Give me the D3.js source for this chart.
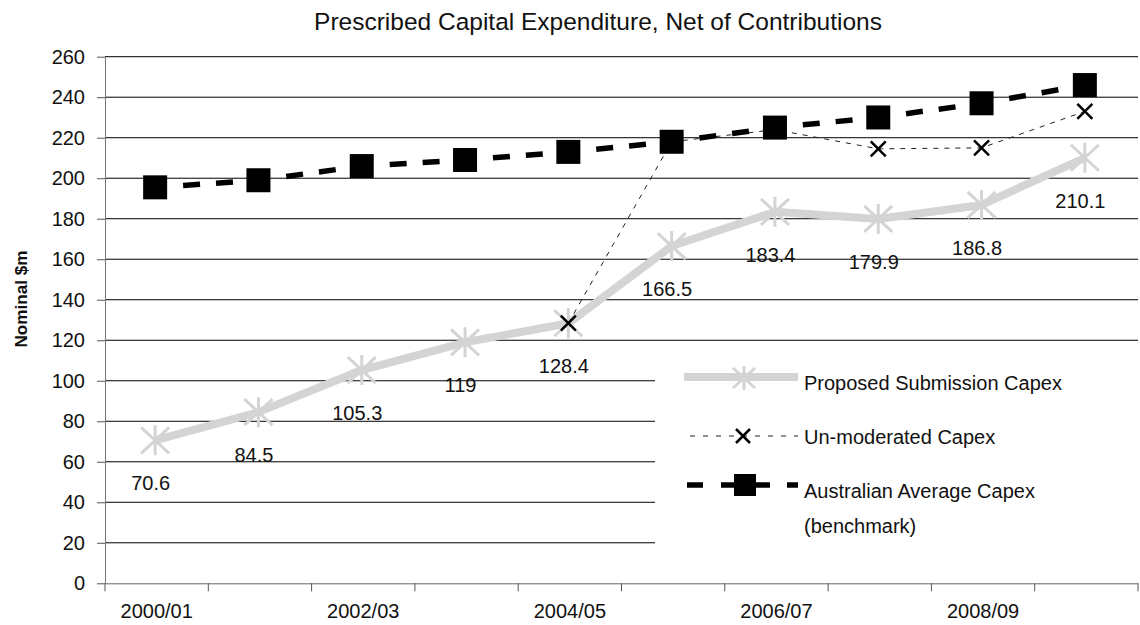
<!DOCTYPE html>
<html>
<head>
<meta charset="utf-8">
<script src="https://cdn.jsdelivr.net/npm/d3@7"></script>
<style>
  body { margin: 0; background: #fff; }
  svg { display: block; font-family: "Liberation Sans", Arial, Helvetica, sans-serif; }
</style>
</head>
<body>
<svg id="chart" width="1140" height="625"></svg>
<script>
// Financial years on the category axis
const categories = ["2000/01", "2001/02", "2002/03", "2003/04", "2004/05",
                    "2005/06", "2006/07", "2007/08", "2008/09", "2009/10"];
// Only every second year is labelled
const xTickLabels = ["2000/01", "2002/03", "2004/05", "2006/07", "2008/09"];
const yTicks = [0, 20, 40, 60, 80, 100, 120, 140, 160, 180, 200, 220, 240, 260];

// Series values, nominal $m
const proposed    = [70.6, 84.5, 105.3, 119, 128.4, 166.5, 183.4, 179.9, 186.8, 210.1];
const unmoderated = [null, null, null, null, 128.4, 218, 224, 214.5, 215, 233];
const benchmark   = [195.5, 199, 206, 209, 213, 218, 225, 230, 237, 246];

const seriesNames = ["Proposed Submission Capex", "Un-moderated Capex",
                     "Australian Average Capex", "(benchmark)"];

const svg = d3.select("#chart");
svg.append("rect").attr("width", 1140).attr("height", 625).attr("fill", "#fff");

const plot = { left: 105, right: 1138, top: 56.7, bottom: 583.3 };

const x = d3.scaleBand().domain(categories).range([plot.left, plot.right]).padding(0);
const cx = c => x(c) + x.bandwidth() / 2 - 1.5;
const y = d3.scaleLinear().domain([0, 260]).range([plot.bottom, plot.top]);

const FS = 20;

// Title
svg.append("text")
  .attr("x", 598).attr("y", 30)
  .attr("text-anchor", "middle")
  .attr("font-size", 24.5)
  .attr("fill", "#111")
  .text("Prescribed Capital Expenditure, Net of Contributions");

// Y axis title
svg.append("text")
  .attr("transform", "translate(21,299) rotate(-90)")
  .attr("text-anchor", "middle")
  .attr("dominant-baseline", "central")
  .attr("font-size", 17)
  .attr("font-weight", "bold")
  .attr("fill", "#111")
  .attr("textLength", 97)
  .attr("lengthAdjust", "spacingAndGlyphs")
  .text("Nominal $m");

// Horizontal gridlines
svg.append("g")
  .selectAll("line")
  .data(yTicks.filter(v => v > 0))
  .join("line")
  .attr("x1", plot.left).attr("x2", plot.right)
  .attr("y1", d => y(d)).attr("y2", d => y(d))
  .attr("stroke", "#000").attr("stroke-width", 1);

// Y axis
const yAxis = svg.append("g")
  .attr("transform", `translate(${plot.left},0)`)
  .call(d3.axisLeft(y).tickValues(yTicks).tickSize(8).tickPadding(12).tickSizeOuter(0));
yAxis.select(".domain").attr("stroke", "#777");
yAxis.selectAll(".tick line").attr("stroke", "#555");
yAxis.selectAll(".tick text")
  .attr("font-size", FS)
  .attr("font-family", "Liberation Sans, Arial, sans-serif")
  .attr("fill", "#111");

// X axis: tick marks on category boundaries, labels on alternate categories
const xAxis = svg.append("g")
  .attr("transform", `translate(0,${plot.bottom})`)
  .call(d3.axisBottom(x).tickValues(categories).tickSize(0).tickPadding(21)
          .tickFormat(d => xTickLabels.includes(d) ? d : ""));
xAxis.select(".domain").attr("stroke", "#666");
xAxis.selectAll(".tick text")
  .attr("font-size", FS)
  .attr("font-family", "Liberation Sans, Arial, sans-serif")
  .attr("fill", "#111");
const boundaries = categories.map(c => x(c)).concat([plot.right]);
xAxis.append("g").selectAll("line")
  .data(boundaries)
  .join("line")
  .attr("x1", d => d).attr("x2", d => d)
  .attr("y1", 0).attr("y2", 8)
  .attr("stroke", "#555");

// Legend background (white panel hiding gridlines)
svg.append("rect")
  .attr("x", 655).attr("y", 352).attr("width", 484).attr("height", 200)
  .attr("fill", "#fff");

const LIGHT = "#d4d4d4";

// Star (asterisk) marker path
function starPath(r, rx, ry) {
  return `M0,${-r}L0,${r}M${-rx},${-ry}L${rx},${ry}M${-rx},${ry}L${rx},${-ry}`;
}
function crossPath(r) {
  return `M${-r},${-r}L${r},${r}M${-r},${r}L${r},${-r}`;
}

// Proposed submission line
const lineGen = d3.line().defined(d => d.v != null).x(d => cx(d.c)).y(d => y(d.v));
const propData = categories.map((c, i) => ({ c, v: proposed[i] }));
svg.append("path")
  .datum(propData)
  .attr("d", lineGen)
  .attr("fill", "none")
  .attr("stroke", LIGHT)
  .attr("stroke-width", 8)
  .attr("stroke-linejoin", "round");
svg.append("g").selectAll("path")
  .data(propData)
  .join("path")
  .attr("transform", d => `translate(${cx(d.c)},${y(d.v)})`)
  .attr("d", starPath(15, 14, 13))
  .attr("stroke", LIGHT)
  .attr("stroke-width", 3)
  .attr("fill", "none");

// Un-moderated line
const unData = categories.map((c, i) => ({ c, v: unmoderated[i] }));
svg.append("path")
  .datum(unData)
  .attr("d", lineGen)
  .attr("fill", "none")
  .attr("stroke", "#222")
  .attr("stroke-width", 1)
  .attr("stroke-dasharray", "5 6");
svg.append("g").selectAll("path")
  .data(unData.filter(d => d.v != null))
  .join("path")
  .attr("transform", d => `translate(${cx(d.c)},${y(d.v)})`)
  .attr("d", crossPath(7.5))
  .attr("stroke", "#000")
  .attr("stroke-width", 2.5)
  .attr("fill", "none");

// Benchmark line: each segment dashed from its own start so every gap pairs up
const benchData = categories.map((c, i) => ({ c, v: benchmark[i] }));
svg.append("g").selectAll("line")
  .data(d3.pairs(benchData))
  .join("line")
  .attr("x1", d => cx(d[0].c)).attr("y1", d => y(d[0].v))
  .attr("x2", d => cx(d[1].c)).attr("y2", d => y(d[1].v))
  .attr("stroke", "#000")
  .attr("stroke-width", 5.5)
  .attr("stroke-dasharray", "0 28 17 16 17 1000");
svg.append("g").selectAll("rect")
  .data(benchData)
  .join("rect")
  .attr("x", d => cx(d.c) - 12).attr("y", d => y(d.v) - 12)
  .attr("width", 24).attr("height", 24)
  .attr("fill", "#000");

// Data labels for the proposed series
svg.append("g").selectAll("text")
  .data(propData)
  .join("text")
  .attr("x", d => cx(d.c) - 4.5)
  .attr("y", d => y(d.v) + 43)
  .attr("text-anchor", "middle")
  .attr("dominant-baseline", "central")
  .attr("font-size", FS)
  .attr("fill", "#111")
  .text(d => String(d.v));

// Legend
const lg = svg.append("g");
// Proposed
lg.append("line").attr("x1", 684).attr("x2", 798).attr("y1", 377).attr("y2", 377)
  .attr("stroke", LIGHT).attr("stroke-width", 8);
lg.append("path").attr("transform", "translate(744,378)").attr("d", starPath(12, 11, 10))
  .attr("stroke", LIGHT).attr("stroke-width", 3).attr("fill", "none");
// Un-moderated
lg.append("line").attr("x1", 690).attr("x2", 798).attr("y1", 436).attr("y2", 436)
  .attr("stroke", "#222").attr("stroke-width", 1).attr("stroke-dasharray", "5 8");
lg.append("path").attr("transform", "translate(743,436)").attr("d", crossPath(7))
  .attr("stroke", "#000").attr("stroke-width", 2.5).attr("fill", "none");
// Benchmark
lg.append("line").attr("x1", 687).attr("x2", 798).attr("y1", 485).attr("y2", 485)
  .attr("stroke", "#000").attr("stroke-width", 5.5).attr("stroke-dasharray", "16 18 49 17 11");
lg.append("rect").attr("x", 734).attr("y", 474).attr("width", 22).attr("height", 22)
  .attr("fill", "#000");

const legendText = [
  { t: seriesNames[0], y: 383 },
  { t: seriesNames[1], y: 437 },
  { t: seriesNames[2], y: 491 },
  { t: seriesNames[3], y: 526 }
];
lg.selectAll("text")
  .data(legendText)
  .join("text")
  .attr("x", 804).attr("y", d => d.y)
  .attr("dominant-baseline", "central")
  .attr("font-size", FS)
  .attr("fill", "#111")
  .text(d => d.t);
</script>
</body>
</html>
